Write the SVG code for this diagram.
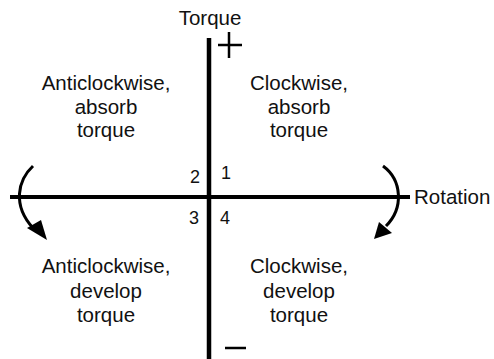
<svg xmlns="http://www.w3.org/2000/svg" width="494" height="359" viewBox="0 0 494 359">
<style>
.t{font-family:"Liberation Sans",Arial,sans-serif;font-size:20.5px;fill:#111;text-anchor:middle}
.n{font-family:"Liberation Sans",Arial,sans-serif;font-size:18px;fill:#111}
.ax{stroke:#000;fill:none;stroke-linecap:butt}
.arc{stroke:#000;stroke-width:3;fill:none}
</style>
<rect width="494" height="359" fill="#fff"/>
<g id="connectors">
<line class="ax" x1="209" y1="38" x2="209" y2="359" stroke-width="4.5"/>
<line class="ax" x1="10" y1="197" x2="410" y2="197" stroke-width="4"/>
<path class="arc" d="M33 166 C18 180 12 205 33 228"/>
<polygon points="27,228 41,220 47,240" fill="#000"/>
<path class="arc" d="M383 166 C402 180 404 208 386 226"/>
<polygon points="379,222 392,233 374,239" fill="#000"/>
</g>
<g id="plus"><line class="ax" x1="218" y1="45" x2="242" y2="45" stroke-width="2.5"/><line class="ax" x1="229" y1="32" x2="229" y2="58" stroke-width="2.5"/></g>
<g id="minus"><line class="ax" x1="225" y1="348" x2="246" y2="348" stroke-width="2.5"/></g>
<g id="torque-label"><text class="t" x="210" y="25" font-size="20px">Torque</text></g>
<g id="rotation-label"><text class="t" x="414" y="204" style="text-anchor:start">Rotation</text></g>
<g id="q1"><text class="t" x="299" y="90">Clockwise,</text><text class="t" x="299" y="114">absorb</text><text class="t" x="299" y="137">torque</text></g>
<g id="q2"><text class="t" x="106" y="90">Anticlockwise,</text><text class="t" x="106" y="114">absorb</text><text class="t" x="106" y="137">torque</text></g>
<g id="q3"><text class="t" x="106" y="273">Anticlockwise,</text><text class="t" x="106" y="298">develop</text><text class="t" x="106" y="322">torque</text></g>
<g id="q4"><text class="t" x="299" y="273">Clockwise,</text><text class="t" x="299" y="298">develop</text><text class="t" x="299" y="322">torque</text></g>
<g id="numbers"><text class="n" x="190" y="183">2</text><text class="n" x="221" y="179">1</text><text class="n" x="189" y="224">3</text><text class="n" x="220" y="224">4</text></g>
</svg>
